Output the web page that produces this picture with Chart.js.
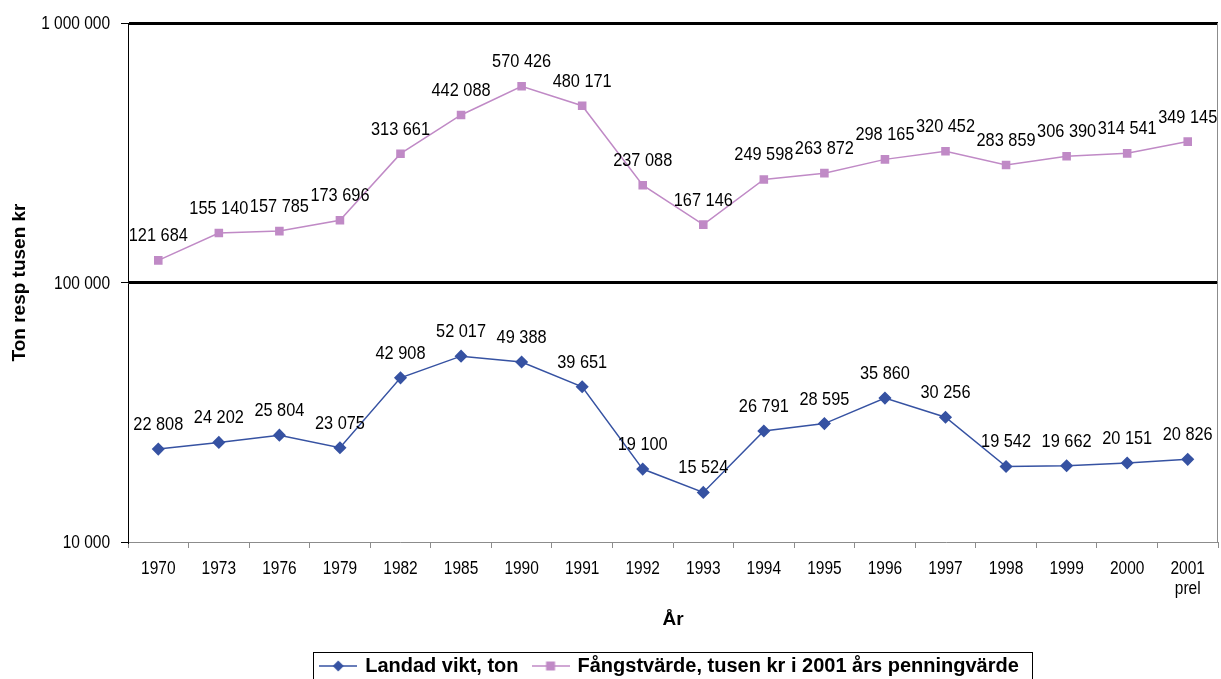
<!DOCTYPE html>
<html lang="sv">
<head>
  <meta charset="UTF-8">
  <title>Landad vikt och fångstvärde</title>
  <script src="https://cdn.jsdelivr.net/npm/chart.js"></script>
  <style>
    body {
      margin: 0;
      background: #ffffff;
      font-family: 'Liberation Sans', Arial, sans-serif;
    }
    canvas { display: block; }
  </style>
</head>
<body>
  <canvas id="fangstChart" width="1221" height="679"></canvas>

  <script>
    // data
    const years = ['1970', '1973', '1976', '1979', '1982', '1985', '1990', '1991', '1992',
      '1993', '1994', '1995', '1996', '1997', '1998', '1999', '2000', ['2001', 'prel']];
    const landadVikt = [22808, 24202, 25804, 23075, 42908, 52017, 49388, 39651, 19100,
      15524, 26791, 28595, 35860, 30256, 19542, 19662, 20151, 20826];
    const fangstVarde = [121684, 155140, 157785, 173696, 313661, 442088, 570426, 480171, 237088,
      167146, 249598, 263872, 298165, 320452, 283859, 306390, 314541, 349145];
    const yTicks = [10000, 100000, 1000000];

    const BLUE = '#3652a2';
    const PINK = '#c08ac6';
    const FONT = "'Liberation Sans', Arial, sans-serif";
    const SQUEEZE = 0.86;      // the original digits are narrower than Arial's
    const LEGEND_SHIFT = 61;   // legend sits right of centre in the original

    function fmt(v) {
      return String(v).replace(/\B(?=(\d{3})+(?!\d))/g, ' ');
    }

    function narrowText(ctx, text, x, y, align) {
      ctx.save();
      ctx.translate(x, y);
      ctx.scale(SQUEEZE, 1);
      ctx.textAlign = align;
      ctx.fillText(text, 0, 0);
      ctx.restore();
    }

    // small line+marker icons for the legend
    function legendIcon(color, shape) {
      const c = document.createElement('canvas');
      c.width = 38; c.height = 12;
      const g = c.getContext('2d');
      g.strokeStyle = color; g.lineWidth = 1.5;
      g.beginPath(); g.moveTo(0, 6); g.lineTo(38, 6); g.stroke();
      g.fillStyle = color;
      g.beginPath();
      if (shape === 'diamond') {
        g.moveTo(19, 0.5); g.lineTo(24.5, 6); g.lineTo(19, 11.5); g.lineTo(13.5, 6);
      } else {
        g.rect(14.5, 1.5, 9, 9);
      }
      g.closePath(); g.fill();
      return c;
    }

    const extras = {
      id: 'extras',
      beforeDraw(chart) {
        const lg = chart.legend;
        if (lg && !lg._moved) {
          lg.left += LEGEND_SHIFT;
          lg.right += LEGEND_SHIFT;
          lg._moved = true;
        }
      },
      afterDatasetsDraw(chart) {
        const ctx = chart.ctx;
        ctx.save();
        ctx.font = '19px ' + FONT;
        ctx.fillStyle = '#000';
        ctx.textBaseline = 'alphabetic';
        chart.data.datasets.forEach((ds, i) => {
          chart.getDatasetMeta(i).data.forEach((pt, j) => {
            narrowText(ctx, fmt(ds.data[j]), pt.x, pt.y - 19, 'center');
          });
        });
        ctx.restore();
      },
      afterDraw(chart) {
        const ctx = chart.ctx;
        const a = chart.chartArea;
        const xs = chart.scales.x;
        const ys = chart.scales.y;
        ctx.save();

        // frame line on the right
        ctx.strokeStyle = '#8c8c8c';
        ctx.lineWidth = 1;
        ctx.beginPath();
        ctx.moveTo(a.right - 0.5, a.top);
        ctx.lineTo(a.right - 0.5, a.bottom);
        ctx.stroke();

        // tick labels
        ctx.fillStyle = '#000';
        ctx.font = '18px ' + FONT;
        ctx.textBaseline = 'alphabetic';
        years.forEach((lab, i) => {
          const lines = Array.isArray(lab) ? lab : [lab];
          const x = xs.getPixelForTick(i);
          lines.forEach((t, k) => narrowText(ctx, t, x, xs.top + 32 + k * 20, 'center'));
        });
        yTicks.forEach(v => {
          narrowText(ctx, fmt(v), ys.right - 18, ys.getPixelForValue(v) + 6, 'right');
        });

        // box round the legend
        const boxes = chart.legend.legendHitBoxes;
        if (boxes && boxes.length) {
          const first = boxes[0], last = boxes[boxes.length - 1];
          const l = first.left + LEGEND_SHIFT - 8;
          const r = last.left + last.width + LEGEND_SHIFT + 13;
          const t = first.top + 10 - 14;
          ctx.strokeStyle = '#000';
          ctx.strokeRect(Math.round(l) + 0.5, Math.round(t) + 0.5, Math.round(r - l), 40);
        }
        ctx.restore();
      }
    };

    new Chart(document.getElementById('fangstChart'), {
      type: 'line',
      data: {
        labels: years,
        datasets: [
          {
            label: 'Landad vikt, ton',
            data: landadVikt,
            borderColor: BLUE,
            backgroundColor: BLUE,
            borderWidth: 1.5,
            pointStyle: 'rectRot',
            pointRadius: 5.5,
            pointHoverRadius: 5.5,
            tension: 0
          },
          {
            label: 'Fångstvärde, tusen kr i 2001 års penningvärde',
            data: fangstVarde,
            borderColor: PINK,
            backgroundColor: PINK,
            borderWidth: 1.5,
            pointStyle: 'rect',
            pointRadius: 5,
            pointHoverRadius: 5,
            tension: 0
          }
        ]
      },
      options: {
        responsive: false,
        animation: false,
        layout: { autoPadding: false, padding: { top: 23, right: 3, left: 0, bottom: -7 } },
        plugins: {
          legend: {
            position: 'bottom',
            labels: {
              color: '#000',
              font: { family: FONT, size: 20, weight: 'bold' },
              usePointStyle: true,
              pointStyleWidth: 34,
              padding: 15,
              generateLabels() {
                return [
                  { text: 'Landad vikt, ton', pointStyle: legendIcon(BLUE, 'diamond'),
                    fillStyle: BLUE, strokeStyle: BLUE, lineWidth: 0, datasetIndex: 0 },
                  { text: 'Fångstvärde, tusen kr i 2001 års penningvärde', pointStyle: legendIcon(PINK, 'square'),
                    fillStyle: PINK, strokeStyle: PINK, lineWidth: 0, datasetIndex: 1 }
                ];
              }
            }
          },
          tooltip: { enabled: false }
        },
        scales: {
          x: {
            offset: true,
            grid: {
              offset: true,
              drawOnChartArea: false,
              drawTicks: true,
              tickLength: 6,
              tickColor: '#8c8c8c'
            },
            border: { color: '#8c8c8c', width: 1 },
            ticks: {
              // drawn narrower by the plugin above
              color: 'rgba(0,0,0,0)',
              font: { family: FONT, size: 10 },
              maxRotation: 0,
              autoSkip: false
            },
            title: {
              display: true,
              text: 'År',
              color: '#000',
              font: { family: FONT, size: 19, weight: 'bold' },
              padding: { top: 0, bottom: 10 }
            },
            afterFit(scale) {
              scale.height = 99;
              scale.paddingLeft = 0;
              scale.paddingRight = 0;
            }
          },
          y: {
            type: 'logarithmic',
            min: 10000,
            max: 1000000,
            afterBuildTicks(scale) {
              scale.ticks = yTicks.map(v => ({ value: v }));
            },
            grid: {
              color: ctx => (ctx.tick && ctx.tick.value === 10000) ? 'rgba(0,0,0,0)' : '#000',
              lineWidth: 3,
              tickLength: 7,
              tickWidth: 1,
              tickColor: '#000'
            },
            border: { color: '#000', width: 1 },
            ticks: {
              color: 'rgba(0,0,0,0)',
              font: { family: FONT, size: 10 },
              callback: v => fmt(v)
            },
            title: {
              display: true,
              text: 'Ton resp tusen kr',
              color: '#000',
              font: { family: FONT, size: 19, weight: 'bold' },
              padding: { top: 8, bottom: 0 }
            },
            afterFit(scale) { scale.width = 128; }
          }
        }
      },
      plugins: [extras]
    });
  </script>
</body>
</html>
